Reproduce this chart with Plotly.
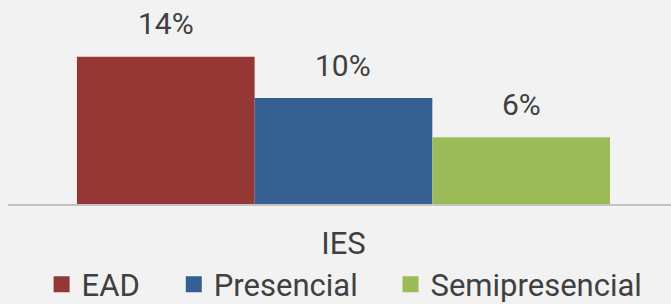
import plotly.graph_objects as go

categories = ["IES"]
series_names = ["EAD", "Presencial", "Semipresencial"]
series_values = [13.9, 10.0, 6.3]  # percent
colors = ["#953735", "#355f91", "#9bbb59"]

BG = "#f2f2f2"
TXT = "#404040"
FONT = "Roboto, Arial, sans-serif"
bargap = 0.196
legend_x = [0.062, 0.259, 0.582]

fig = go.Figure()
legend_ids = ["legend", "legend2", "legend3"]
for name, val, col, lid in zip(series_names, series_values, colors, legend_ids):
    fig.add_trace(go.Bar(
        x=categories, y=[val], name=name, marker=dict(color=col, line=dict(width=0)),
        showlegend=False, hoverinfo="skip",
    ))
    fig.add_trace(go.Scatter(
        x=[None], y=[None], mode="markers", name=name, legend=lid,
        marker=dict(symbol="square", size=16, color=col),
        showlegend=True,
    ))

n = len(series_names)
group_w = 1 - bargap
for i, val in enumerate(series_values):
    xc = (i - (n - 1) / 2) * group_w / n
    fig.add_annotation(
        x=xc, y=val, xref="x", yref="y", text=f"{val:.0f}%",
        showarrow=False, yshift=33, yanchor="middle",
        font=dict(family=FONT, size=30, color=TXT),
    )

leg_common = dict(orientation="h", xref="container", yref="paper", y=-0.527,
                  xanchor="left", yanchor="bottom",
                  font=dict(family=FONT, size=31, color=TXT),
                  bgcolor="rgba(0,0,0,0)", itemclick=False, itemdoubleclick=False,
                  borderwidth=0)

fig.update_layout(
    width=671, height=304,
    margin=dict(l=8, r=0, t=0, b=100, autoexpand=False),
    paper_bgcolor=BG, plot_bgcolor=BG,
    barmode="group", bargap=bargap, bargroupgap=0,
    font=dict(family=FONT, size=31, color=TXT),
    showlegend=True,
    legend=dict(x=legend_x[0], **leg_common),
    legend2=dict(x=legend_x[1], **leg_common),
    legend3=dict(x=legend_x[2], **leg_common),
    xaxis=dict(range=[-0.506, 0.494], showline=True, linecolor="#c4c4c4", linewidth=2,
               showgrid=False, zeroline=False, ticks="", ticklabelstandoff=11,
               tickfont=dict(size=31, color=TXT), fixedrange=True),
    yaxis=dict(range=[0, 19.25], visible=False, showgrid=False, zeroline=False,
               fixedrange=True),
)

fig.write_html(
    "out.html",
    config={"displayModeBar": False},
    post_script="document.body.style.margin='0';document.body.style.background='#f2f2f2';document.body.style.overflow='hidden';",
)
